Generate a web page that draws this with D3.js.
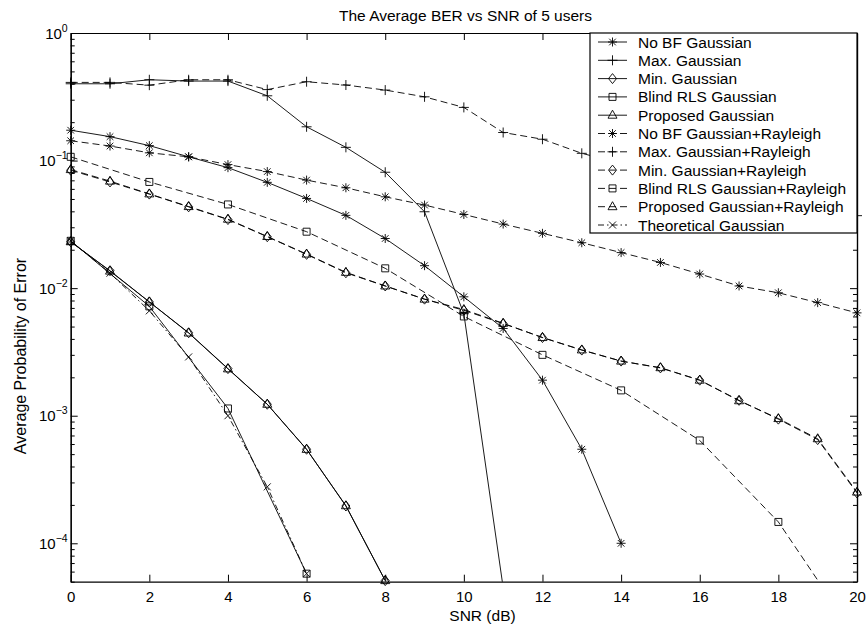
<!DOCTYPE html>
<html>
<head>
<meta charset="utf-8">
<script src="https://cdn.jsdelivr.net/npm/d3@7/dist/d3.min.js"></script>
<style>
  html, body { margin: 0; padding: 0; background: #fff; }
  svg { display: block; font-family: "Liberation Sans", Arial, sans-serif; }
</style>
</head>
<body>
<svg id="chart" width="868" height="631"></svg>
<script>
// ---------------- data ----------------
const snr      = [0,1,2,3,4,5,6,7,8,9,10,11,12,13,14,15,16,17,18,19,20];
const snrEven  = [0,2,4,6,8,10,12,14,16,18,20];

const noBFGaussian   = [0.173,0.154,0.131,0.107,0.088,0.0675,0.0505,0.0372,0.0245,0.015,0.00855,0.00483,0.0019,0.000546,0.0001];
const maxGaussian    = [0.40,0.40,0.43,0.42,0.42,0.322,0.184,0.127,0.081,0.0397,0.0063,0.000045];
const minGaussian    = [0.0231,0.0137,0.0078,0.00447,0.00234,0.00123,0.000546,0.000196,0.000051];
const blindGaussian  = [0.0235,0.0072,0.00114,0.0000578];
const propGaussian   = [0.0231,0.0136,0.0078,0.00445,0.00233,0.00123,0.000545,0.000197,0.000051];
const noBFRayleigh   = [0.143,0.130,0.115,0.107,0.093,0.082,0.0703,0.0612,0.052,0.0448,0.0378,0.0318,0.0269,0.0227,0.019,0.0159,0.0129,0.0104,0.0092,0.0077,0.0064];
const maxRayleigh    = [0.41,0.41,0.39,0.43,0.43,0.36,0.415,0.391,0.357,0.316,0.261,0.166,0.147,0.114,0.095,0.08,0.068,0.058,0.05,0.043,0.037];
const minRayleigh    = [0.084,0.068,0.0546,0.0434,0.0345,0.0253,0.0184,0.0132,0.0104,0.0082,0.0067,0.00528,0.0041,0.00327,0.00268,0.00237,0.0019,0.00132,0.00094,0.00065,0.000248];
const blindRayleigh  = [0.107,0.068,0.0453,0.0277,0.0143,0.006,0.003,0.00158,0.00064,0.000147,0.000018];
const propRayleigh   = [0.085,0.069,0.0548,0.0436,0.0347,0.0254,0.0185,0.0133,0.0104,0.0082,0.0068,0.0053,0.0041,0.00328,0.00268,0.00238,0.0019,0.00131,0.00095,0.00066,0.000252];
const theoGaussian   = [0.0235,0.0131,0.00664,0.00289,0.001,0.000277,0.0000578];

const seriesNames = ["No BF Gaussian","Max. Gaussian","Min. Gaussian","Blind RLS Gaussian","Proposed Gaussian",
  "No BF Gaussian+Rayleigh","Max. Gaussian+Rayleigh","Min. Gaussian+Rayleigh","Blind RLS Gaussian+Rayleigh",
  "Proposed Gaussian+Rayleigh","Theoretical Gaussian"];
const xTickValues = [0,2,4,6,8,10,12,14,16,18,20];
const yDecades = [1e-4,1e-3,1e-2,1e-1,1];
const yExponents = ["−4","−3","−2","−1","0"];

// ---------------- build series ----------------
const seriesX = [snr, snr, snr, snrEven, snr, snr, snr, snr, snrEven, snr, snr];
const seriesY = [noBFGaussian, maxGaussian, minGaussian, blindGaussian, propGaussian,
  noBFRayleigh, maxRayleigh, minRayleigh, blindRayleigh, propRayleigh, theoGaussian];
const seriesMarker = ["asterisk","plus","diamond","square","triangle","asterisk","plus","diamond","square","triangle","x"];
const seriesDash = ["none","none","none","none","none","7,4","7,4","7,4","7,4","7,4","6,3,1.5,3"];

const series = seriesNames.map((name, i) => ({
  name,
  marker: seriesMarker[i],
  dash: seriesDash[i],
  points: seriesY[i].map((v, j) => ({ x: seriesX[i][j], y: v }))
}));

// ---------------- layout ----------------
const L = 70.7, R = 857, T = 33, B = 581.7;
const svg = d3.select("#chart");
const x = d3.scaleLinear().domain([0, 20]).range([L, R]);
const y = d3.scaleLog().domain([5e-5, 1]).range([B, T]);

const markerPath = {
  asterisk: "M-4.5,0H4.5M0,-4.5V4.5M-3.3,-3.3L3.3,3.3M-3.3,3.3L3.3,-3.3",
  plus: "M-5,0H5M0,-5V5",
  diamond: "M0,-5L4,0L0,5L-4,0Z",
  square: "M-3.5,-3.5H3.5V3.5H-3.5Z",
  triangle: "M0,-5L4.5,3L-4.5,3Z",
  x: "M-3.5,-3.5L3.5,3.5M-3.5,3.5L3.5,-3.5"
};

// clip
svg.append("defs").append("clipPath").attr("id", "plotclip")
  .append("rect").attr("x", L).attr("y", T).attr("width", R - L).attr("height", B - T);

// lines
const line = d3.line().x(d => x(d.x)).y(d => y(d.y));
const gLines = svg.append("g").attr("clip-path", "url(#plotclip)");
series.forEach(s => {
  gLines.append("path")
    .attr("d", line(s.points))
    .attr("fill", "none")
    .attr("stroke", "#000")
    .attr("stroke-width", 0.9)
    .attr("stroke-dasharray", s.dash);
});
// markers
const gMarks = svg.append("g");
series.forEach(s => {
  gMarks.selectAll(null)
    .data(s.points.filter(d => d.y >= 5e-5 && d.y <= 1))
    .join("path")
    .attr("transform", d => `translate(${x(d.x)},${y(d.y)})`)
    .attr("d", markerPath[s.marker])
    .attr("fill", "none")
    .attr("stroke", "#000")
    .attr("stroke-width", 0.9);
});

// ---------------- axes ----------------
const fontSize = 15.5;
const tickFont = 15;
const minorTicks = [];
for (let e = -5; e < 0; e++) for (let m = 1; m <= 9; m++) {
  const v = m * Math.pow(10, e);
  if (v >= 5e-5 && v <= 1 && m !== 1) minorTicks.push(v);
}

function styleAxis(g) {
  g.select(".domain").attr("stroke", "#000").attr("stroke-width", 1.2);
  g.selectAll(".tick line").attr("stroke", "#000").attr("stroke-width", 1);
}

// bottom
svg.append("g").attr("transform", `translate(0,${B})`)
  .call(d3.axisBottom(x).tickValues(xTickValues).tickSize(-7).tickSizeOuter(0).tickPadding(9.5).tickFormat(d3.format("d")))
  .call(styleAxis)
  .call(g => g.selectAll("text").attr("font-size", tickFont).attr("fill", "#000")
    .attr("font-family", "'Liberation Sans', Arial, sans-serif"));
// top
svg.append("g").attr("transform", `translate(0,${T})`)
  .call(d3.axisTop(x).tickValues(xTickValues).tickSize(-7).tickSizeOuter(0).tickFormat(""))
  .call(styleAxis);
// left major
svg.append("g").attr("transform", `translate(${L},0)`)
  .call(d3.axisLeft(y).tickValues(yDecades).tickSize(-7).tickSizeOuter(0).tickFormat(""))
  .call(styleAxis);
svg.append("g").attr("transform", `translate(${L},0)`)
  .call(d3.axisLeft(y).tickValues(minorTicks).tickSize(-4).tickSizeOuter(0).tickFormat(""))
  .call(styleAxis);
// right
svg.append("g").attr("transform", `translate(${R},0)`)
  .call(d3.axisRight(y).tickValues(yDecades).tickSize(-7).tickSizeOuter(0).tickFormat(""))
  .call(styleAxis);
svg.append("g").attr("transform", `translate(${R},0)`)
  .call(d3.axisRight(y).tickValues(minorTicks).tickSize(-4).tickSizeOuter(0).tickFormat(""))
  .call(styleAxis);

// y tick labels 10^k
const yl = svg.append("g").attr("font-size", tickFont).attr("fill", "#000");
yDecades.forEach((v, i) => {
  const t = yl.append("text")
    .attr("x", L - 3)
    .attr("y", y(v) + 5.5)
    .attr("text-anchor", "end");
  t.append("tspan").text("10");
  t.append("tspan").attr("font-size", 10.5).attr("dy", -7).text(yExponents[i]);
});

// title and labels
svg.append("text").attr("x", 465.5).attr("y", 20.5).attr("text-anchor", "middle")
  .attr("font-size", fontSize).attr("fill", "#000").text("The Average BER vs SNR of 5 users");
svg.append("text").attr("x", 482.5).attr("y", 620.5).attr("text-anchor", "middle")
  .attr("font-size", fontSize).attr("fill", "#000").text("SNR (dB)");
svg.append("text").attr("transform", "translate(26,356) rotate(-90)").attr("text-anchor", "middle")
  .attr("font-size", 16).attr("fill", "#000").text("Average Probability of Error");

// ---------------- legend ----------------
const lg = svg.append("g");
lg.append("rect").attr("x", 590).attr("y", T).attr("width", R - 590).attr("height", 200)
  .attr("fill", "#fff").attr("stroke", "#000").attr("stroke-width", 1.2);
series.forEach((s, i) => {
  const cy = 42 + i * 18.3;
  lg.append("line").attr("x1", 598).attr("x2", 627).attr("y1", cy).attr("y2", cy)
    .attr("stroke", "#000").attr("stroke-width", 0.9).attr("stroke-dasharray", s.dash);
  lg.append("path").attr("transform", `translate(612.5,${cy})`).attr("d", markerPath[s.marker])
    .attr("fill", "none").attr("stroke", "#000").attr("stroke-width", 0.9);
  lg.append("text").attr("x", 638).attr("y", cy + 5.5).attr("font-size", fontSize).attr("fill", "#000").text(s.name);
});
</script>
</body>
</html>
